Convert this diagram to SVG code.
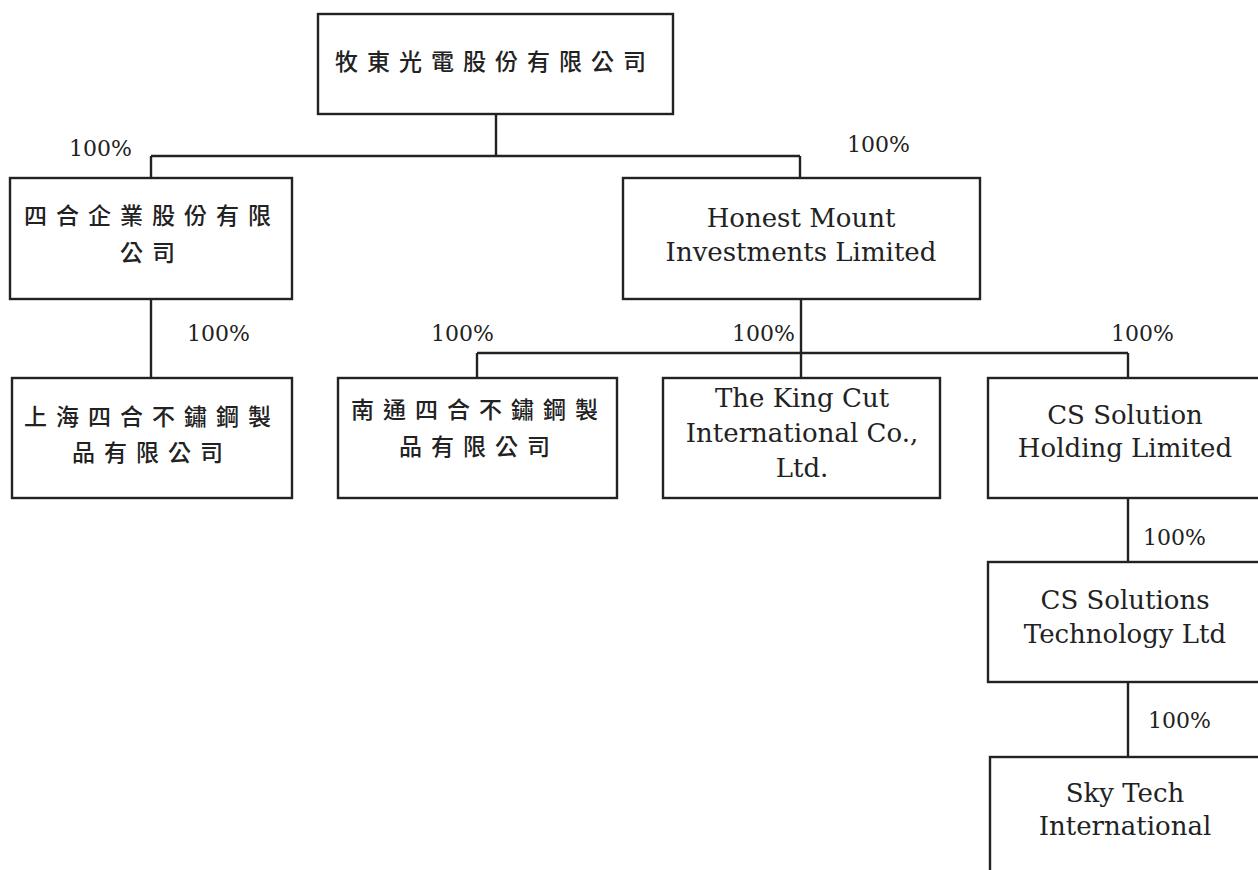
<svg xmlns="http://www.w3.org/2000/svg" width="1258" height="870" viewBox="0 0 1258 870">
<style>
.box{fill:#fff;stroke:#222;stroke-width:2.4}
.ln{fill:none;stroke:#222;stroke-width:2.4}
.zh{font-family:"Noto Sans CJK TC","Noto Sans CJK SC",serif;font-size:23px;font-weight:500;letter-spacing:9px;fill:#222}
.en{font-family:"DejaVu Serif","Liberation Serif",serif;font-size:26px;fill:#222;text-anchor:middle}
.pc{font-family:"DejaVu Serif","Liberation Serif",serif;font-size:22px;fill:#222}
</style>
<rect width="1258" height="870" fill="#fff"/>
<g id="connectors">
<path class="ln" d="M496 114V156M151 156H800M151 156V178M800 156V178"/>
<path class="ln" d="M151 299V378"/>
<path class="ln" d="M801 299V353M477 353H1128M477 353V378M801 353V378M1128 353V378"/>
<path class="ln" d="M1128 498V562M1128 682V757"/>
</g>
<g id="labels">
<text class="pc" x="69" y="156">100%</text>
<text class="pc" x="847" y="152">100%</text>
<text class="pc" x="187" y="341">100%</text>
<text class="pc" x="431" y="341">100%</text>
<text class="pc" x="732" y="341">100%</text>
<text class="pc" x="1111" y="341">100%</text>
<text class="pc" x="1143" y="545">100%</text>
<text class="pc" x="1148" y="728">100%</text>
</g>
<g id="n-top">
<rect class="box" x="318" y="14" width="355" height="100"/>
<text class="zh" x="335" y="70">牧東光電股份有限公司</text>
</g>
<g id="n-sihe">
<rect class="box" x="10" y="178" width="282" height="121"/>
<text class="zh" x="24" y="224">四合企業股份有限</text>
<text class="zh" x="120" y="261">公司</text>
</g>
<g id="n-honest">
<rect class="box" x="623" y="178" width="357" height="121"/>
<text class="en" x="801" y="227">Honest Mount</text>
<text class="en" x="801" y="261">Investments Limited</text>
</g>
<g id="n-shanghai">
<rect class="box" x="12" y="378" width="280" height="120"/>
<text class="zh" x="24" y="425">上海四合不鏽鋼製</text>
<text class="zh" x="72" y="461">品有限公司</text>
</g>
<g id="n-nantong">
<rect class="box" x="338" y="378" width="279" height="120"/>
<text class="zh" x="351" y="418">南通四合不鏽鋼製</text>
<text class="zh" x="399" y="455">品有限公司</text>
</g>
<g id="n-kingcut">
<rect class="box" x="663" y="378" width="277" height="120"/>
<text class="en" x="802" y="407">The King Cut</text>
<text class="en" x="802" y="442">International Co.,</text>
<text class="en" x="802" y="477">Ltd.</text>
</g>
<g id="n-csholding">
<rect class="box" x="988" y="378" width="280" height="120"/>
<text class="en" x="1125" y="424">CS Solution</text>
<text class="en" x="1125" y="457">Holding Limited</text>
</g>
<g id="n-cstech">
<rect class="box" x="988" y="562" width="280" height="120"/>
<text class="en" x="1125" y="609">CS Solutions</text>
<text class="en" x="1125" y="643">Technology Ltd</text>
</g>
<g id="n-skytech">
<rect class="box" x="990" y="757" width="280" height="130"/>
<text class="en" x="1125" y="802">Sky Tech</text>
<text class="en" x="1125" y="835">International</text>
</g>
</svg>
